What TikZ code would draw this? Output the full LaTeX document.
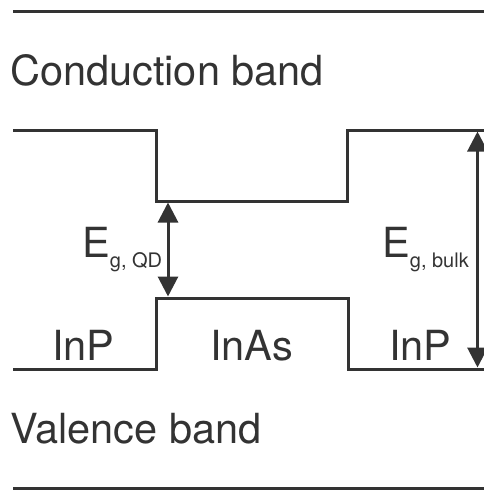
\documentclass[tikz,border=0pt]{standalone}
\usepackage{fontspec}
\setmainfont{TeX Gyre Heros}
\usepackage{xcolor}
\definecolor{banddark}{HTML}{333333}
\usetikzlibrary{arrows.meta}
\newcommand{\gapsub}[1]{\raisebox{-10pt}{\fontsize{20}{20}\selectfont #1}}

\begin{document}
\begin{tikzpicture}[
  x=1pt, y=-1pt,
  band/.style={draw=banddark, line width=3pt},
  gap/.style={{Triangle[length=20pt, width=20pt]}-{Triangle[length=20pt, width=20pt]}, banddark, line width=3pt},
  lbl/.style={anchor=base west, inner sep=0pt, text=banddark, font=\fontsize{41.5}{41.5}\selectfont}
]
  \useasboundingbox (0,0) rectangle (484,491);

  % frame rules
  \draw[band] (13,11) -- (484,11);
  \draw[band] (13,488) -- (484,488);

  % conduction band edge
  \draw[band] (13,130) -- (156,130) -- (156,201) -- (347,201) -- (347,130) -- (484,130);
  % valence band edge
  \draw[band] (13,369) -- (156,369) -- (156,298) -- (348,298) -- (348,369) -- (484,369);

  \coordinate (qdtop)   at (168,202.5);
  \coordinate (qdbot)   at (168,296.5);
  \coordinate (bulktop) at (477.5,131.5);
  \coordinate (bulkbot) at (477.5,367.5);

  \draw[gap] (qdtop) -- (qdbot);
  \draw[gap] (bulktop) -- (bulkbot);

  \node[lbl] (cb)    at (10,85)   {Conduction band};
  \node[lbl] (vb)    at (10,443)  {Valence band};
  \node[lbl] (inpl)  at (52,360)  {InP};
  \node[lbl] (inas)  at (210,360) {InAs};
  \node[lbl] (inpr)  at (389,360) {InP};
  \node[lbl] (egqd)  at (82,257)  {E\gapsub{g, QD}};
  \node[lbl] (egblk) at (382,257) {E\gapsub{g, bulk}};
\end{tikzpicture}
\end{document}
